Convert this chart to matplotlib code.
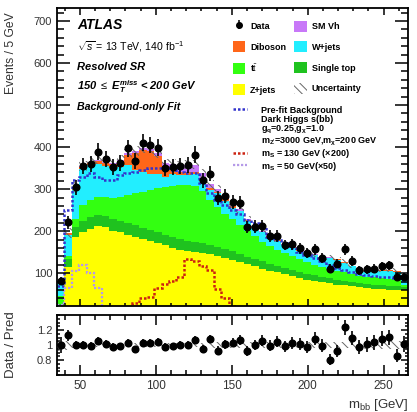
import numpy as np
import matplotlib
matplotlib.use('Agg')
import matplotlib.pyplot as plt
from matplotlib.lines import Line2D
from matplotlib.patches import Patch
from matplotlib.ticker import MultipleLocator, FixedLocator, FixedFormatter

plt.rcParams['font.family'] = ['Liberation Sans', 'DejaVu Sans']
plt.rcParams['mathtext.fontset'] = 'custom'
plt.rcParams['mathtext.rm'] = 'Liberation Sans'
plt.rcParams['mathtext.it'] = 'Liberation Sans:italic'
plt.rcParams['mathtext.bf'] = 'Liberation Sans:bold'
plt.rcParams['mathtext.bfit'] = 'Liberation Sans:bold:italic'
plt.rcParams['hatch.linewidth'] = 0.7

# m_bb binning
mbb_lo, mbb_hi, nbins = 35, 266, 47

# observed events per bin
data = [81, 221, 304, 356, 359, 389, 372, 353, 363, 397, 367, 410, 405, 399, 351, 353,
        355, 358, 382, 321, 337, 278, 283, 270, 268, 210, 211, 213, 188, 188, 167, 169,
        159, 148, 157, 137, 111, 123, 157, 129, 107, 109, 111, 117, 119, 91, 91]

# post-fit backgrounds (stack order bottom -> top)
zjets = [18, 115, 185, 198, 206, 212, 209, 201, 197, 192, 186, 181, 177, 171, 166, 161,
         156, 153, 150, 148, 145, 141, 137, 132, 127, 121, 116, 111, 106, 102, 98, 93,
         89, 85, 82, 79, 76, 73, 71, 69, 67, 65, 63, 62, 61, 60, 59]
singletop = [9, 18, 24, 26, 27, 27, 28, 28, 28, 28, 28, 27, 27, 26, 26, 25,
             25, 24, 24, 23, 22, 21, 21, 20, 19, 18, 17, 17, 16, 16, 15, 15,
             14, 13, 13, 12, 12, 11, 11, 10, 10, 10, 9, 9, 9, 9, 8]
ttbar = [18, 7, 21, 38, 42, 42, 45, 51, 57, 67, 76, 85, 93, 105, 113, 122,
         129, 133, 134, 124, 108, 96, 84, 76, 69, 61, 55, 47, 43, 37, 35, 32,
         30, 29, 25, 23, 22, 22, 20, 19, 17, 17, 18, 17, 16, 15, 5]
wjets = [33, 52, 68, 86, 82, 80, 73, 70, 71, 70, 56, 49, 39, 33, 24, 28,
         24, 24, 27, 24, 23, 33, 31, 28, 32, 24, 20, 22, 21, 21, 18, 21,
         21, 23, 23, 22, 26, 26, 23, 18, 14, 14, 15, 18, 20, 20, 16]
diboson = [2, 3, 4, 5, 6, 7, 8, 10, 14, 25, 40, 52, 55, 45, 25, 12,
           8, 6, 5, 4, 4, 3, 3, 3, 2, 2, 2, 2, 2, 2, 2, 2,
           2, 1, 1, 1, 1, 1, 1, 1, 1, 1, 1, 1, 1, 1, 1]
smvh = [1, 1, 2, 2, 2, 2, 2, 2, 3, 3, 4, 4, 4, 5, 8, 12,
        15, 18, 18, 15, 10, 6, 4, 3, 3, 2, 2, 2, 2, 2, 2, 2,
        1, 1, 1, 1, 1, 1, 1, 1, 1, 1, 1, 1, 1, 1, 1]
rel_unc = [0.08, 0.06, 0.04, 0.035, 0.03, 0.03, 0.03, 0.03, 0.03, 0.03, 0.03, 0.03,
           0.03, 0.03, 0.03, 0.03, 0.03, 0.03, 0.03, 0.03, 0.035, 0.035, 0.035, 0.035,
           0.035, 0.035, 0.035, 0.035, 0.035, 0.035, 0.035, 0.035, 0.04, 0.04, 0.04,
           0.04, 0.04, 0.04, 0.045, 0.045, 0.045, 0.05, 0.05, 0.05, 0.05, 0.055, 0.06]

prefit = [70, 250, 321, 329, 338, 329, 321, 321, 333, 338, 340, 345, 350, 350, 350, 345,
          342, 338, 338, 314, 290, 275, 262, 250, 240, 226, 219, 210, 186, 178, 171, 160,
          150, 143, 136, 128, 119, 113, 107, 103, 98, 95, 93, 91, 91, 89, 88]
sig130 = [0, 0, 0, 0, 0, 0, 0, 0, 2, 10, 30, 40, 43, 66, 75, 82,
          90, 135, 128, 118, 108, 62, 42, 22, 12, 5, 2, 0, 0, 0, 0, 0,
          0, 0, 0, 0, 0, 0, 0, 0, 0, 0, 0, 0, 0, 0, 0]
sig50 = [25, 65, 105, 120, 100, 65, 5, 0, 0, 0, 0, 0, 0, 0, 0, 0,
         0, 0, 0, 0, 0, 0, 0, 0, 0, 0, 0, 0, 0, 0, 0, 0,
         0, 0, 0, 0, 0, 0, 0, 0, 0, 0, 0, 0, 0, 0, 0]

edges = np.linspace(mbb_lo, mbb_hi, nbins + 1)
centers = 0.5 * (edges[1:] + edges[:-1])
data = np.array(data, float)

stack = [(zjets, '#FFFF00', 'Z+jets'), (singletop, '#1FC21F', 'Single top'),
         (ttbar, '#33FF11', r't$\bar{\mathrm{t}}$'), (wjets, '#22EEFF', 'W+jets'),
         (diboson, '#FF6619', 'Diboson'), (smvh, '#C878F8', 'SM Vh')]
colors = {lab: c for _, c, lab in stack}

fig = plt.figure(figsize=(4.17, 4.12), dpi=100)
ax = fig.add_axes([57 / 417, 106 / 412, 351 / 417, 298 / 412])
axr = fig.add_axes([57 / 417, 37 / 412, 351 / 417, 60 / 412])

bottom = np.zeros(nbins)
for vals, col, lab in stack:
    top = bottom + np.array(vals, float)
    ax.stairs(top, edges, baseline=bottom, fill=True, color=col, lw=0)
    bottom = top
total = bottom
unc = np.array(rel_unc)

hatch_kw = dict(fill=True, facecolor='none', edgecolor='#666666', hatch='\\\\\\\\', lw=0)
ax.stairs(total * (1 + unc), edges, baseline=total * (1 - unc), **hatch_kw)

dot = (0, (1, 0.8))
ax.stairs(prefit, edges, baseline=None, color='#3333CC', ls=dot, lw=1.8)
ax.stairs(sig130, edges, baseline=None, color='#CC2211', ls=dot, lw=1.8)
ax.stairs(sig50, edges, baseline=None, color='#B59AE8', ls=dot, lw=1.6)

ax.errorbar(centers, data, yerr=np.sqrt(data), fmt='o', color='black', ms=4.8,
            elinewidth=1.2, capsize=0, zorder=5)

# ratio panel
axr.stairs(1 + unc, edges, baseline=1 - unc, **hatch_kw)
ratio = data / total
axr.errorbar(centers, ratio, yerr=np.sqrt(data) / total, fmt='o', color='black',
             ms=4.8, elinewidth=1.2, capsize=0, zorder=5)

ax.set_xlim(mbb_lo, mbb_hi)
ax.set_ylim(22, 731)
axr.set_xlim(mbb_lo, mbb_hi)
axr.set_ylim(0.6, 1.4)

for a in (ax, axr):
    for s in a.spines.values():
        s.set_linewidth(1.3)
    a.tick_params(which='both', direction='in', top=True, right=True, width=1.1,
                  labelsize=8.5, colors='black', labelcolor='#333333')
    a.xaxis.set_major_locator(MultipleLocator(50))
    a.xaxis.set_minor_locator(MultipleLocator(10))

ax.yaxis.set_major_locator(MultipleLocator(100))
ax.yaxis.set_minor_locator(MultipleLocator(20))
ax.tick_params(axis='y', which='major', length=9.5)
ax.tick_params(axis='y', which='minor', length=5)
ax.tick_params(axis='x', which='major', length=5)
ax.tick_params(axis='x', which='minor', length=2.5)
ax.tick_params(axis='x', labelbottom=False)
ax.tick_params(axis='y', labelsize=8)

axr.yaxis.set_major_locator(FixedLocator([0.8, 1.0, 1.2]))
axr.yaxis.set_major_formatter(FixedFormatter(['0.8', '1', '1.2']))
axr.yaxis.set_minor_locator(MultipleLocator(0.05))
axr.tick_params(axis='y', which='major', length=5)
axr.tick_params(axis='y', which='minor', length=2.5)
axr.tick_params(axis='x', which='major', length=7)
axr.tick_params(axis='x', which='minor', length=3.5)
axr.tick_params(axis='y', labelsize=8)

ax.set_ylabel('Events / 5 GeV', fontsize=8.7, color='#333333')
ax.yaxis.set_label_coords(-0.115, 0.85)
axr.set_ylabel('Data / Pred', fontsize=9.5, color='#333333')
axr.yaxis.set_label_coords(-0.115, 0.5)
axr.set_xlabel(r'm$_{\mathrm{bb}}$ [GeV]', fontsize=9.5, color='#333333', loc='right')

tkw = dict(transform=ax.transAxes, va='center', ha='left')
ax.text(0.057, 0.943, 'ATLAS', fontsize=10, fontweight='bold', style='italic', **tkw)
ax.text(0.057, 0.870, r'$\sqrt{s}$ = 13 TeV, 140 fb$^{-1}$', fontsize=7.6, **tkw)
ax.text(0.057, 0.802, 'Resolved SR', fontsize=8, fontweight='bold', style='italic', **tkw)
ax.text(0.057, 0.735,
        r'150 $\leq$ $\mathbfit{E}_{\mathbfit{T}}^{\mathbfit{miss}}$ < 200 GeV',
        fontsize=8, fontweight='bold', style='italic', **tkw)
ax.text(0.057, 0.668, 'Background-only Fit', fontsize=7.7, fontweight='bold',
        style='italic', **tkw)

# legends
data_h = ax.errorbar([], [], yerr=[], fmt='o', color='black', ms=4, elinewidth=1.1)
box = lambda lab: Patch(facecolor=colors[lab], edgecolor='none')
unc_h = Patch(facecolor='white', edgecolor='#666666', hatch='\\\\\\\\', lw=0)
handles = [data_h, box('Diboson'), box(r't$\bar{\mathrm{t}}$'), box('Z+jets'),
           box('SM Vh'), box('W+jets'), box('Single top'), unc_h]
labels = ['Data', 'Diboson', r't$\bar{\mathrm{t}}$', 'Z+jets',
          'SM Vh', 'W+jets', 'Single top', 'Uncertainty']
lkw = dict(frameon=False, prop={'size': 6.5, 'weight': 'bold'}, handlelength=1.4,
           handleheight=1.5, handletextpad=0.55, borderpad=0, borderaxespad=0)
leg1 = ax.legend(handles, labels, ncol=2, loc='upper left', bbox_to_anchor=(0.5, 0.958),
                 labelspacing=1.08, columnspacing=0.9, **lkw)
ax.add_artist(leg1)

lkw2 = {**lkw, 'handleheight': 0.8, 'handlelength': 1.6, 'handletextpad': 1.6}
blank = Line2D([], [], color='none')
h2 = [Line2D([], [], color='#3333CC', ls=dot, lw=1.8), blank, blank, blank]
l2 = ['Pre-fit Background', 'Dark Higgs s(bb)',
      r'g$_{\mathbf{q}}$=0.25,g$_{\mathbf{χ}}$=1.0',
      r"m$_{\mathbf{Z'}}$=3000 GeV,m$_{\mathbf{χ}}$=200 GeV"]
leg2 = ax.legend(h2, l2, loc='upper left', bbox_to_anchor=(0.5, 0.672),
                 labelspacing=0.0, **lkw2)
ax.add_artist(leg2)

h3 = [Line2D([], [], color='#CC2211', ls=dot, lw=1.8),
      Line2D([], [], color='#B59AE8', ls=dot, lw=1.6)]
l3 = [r'm$_{\mathbf{S}}$ = 130 GeV (×200)', r'm$_{\mathbf{S}}$ = 50 GeV(×50)']
ax.legend(h3, l3, loc='upper left', bbox_to_anchor=(0.5, 0.532),
          labelspacing=-0.1, **lkw2)

fig.savefig('out.png', dpi=100)
